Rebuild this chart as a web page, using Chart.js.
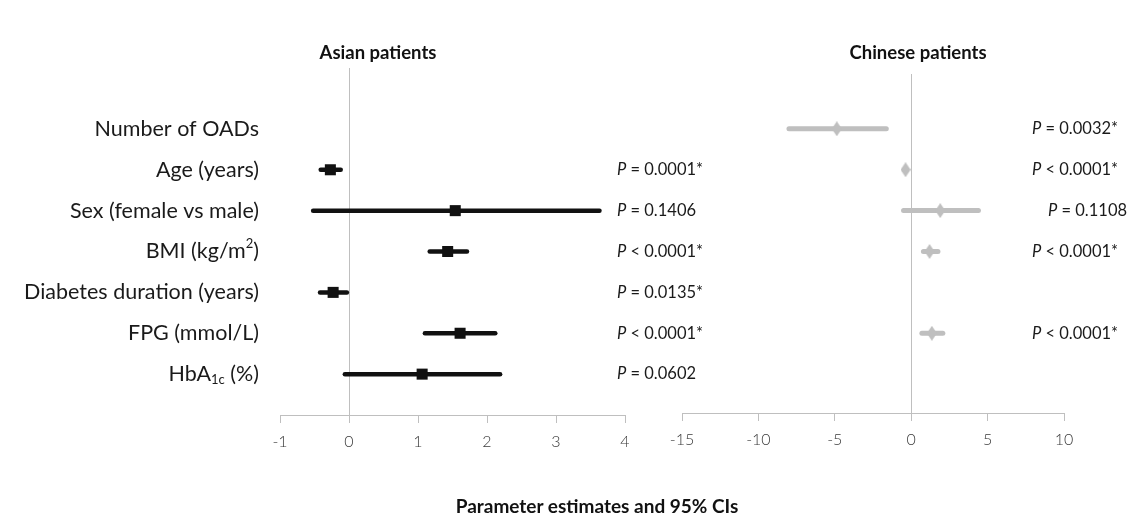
<!DOCTYPE html>
<html>
<head>
<meta charset="utf-8">
<script src="https://cdn.jsdelivr.net/npm/chart.js@4.4.1/dist/chart.umd.min.js"></script>
<style>
    html, body { margin: 0; padding: 0; background: #fff; }
    #wrap { position: relative; width: 1143px; height: 528px; overflow: hidden; font-family: Lato, sans-serif; }
    .panel { position: absolute; top: 0; }
    .title { position: absolute; font-weight: bold; font-size: 18.5px; color: #111; transform: translate(-50%, -50%); white-space: nowrap; }
</style>
</head>
<body>
<div id="wrap">
    <canvas id="asianChart" class="panel" style="left:0" width="720" height="528"></canvas>
    <canvas id="chineseChart" class="panel" style="left:640px" width="503" height="528"></canvas>
    <div class="title" style="left:378px; top:52px">Asian patients</div>
    <div class="title" style="left:918px; top:52px">Chinese patients</div>
    <div class="title" style="left:597px; top:505px; font-size:19px">Parameter estimates and 95% CIs</div>
</div>
<script>
// rows, top to bottom
var rowLabels = ['Number of OADs', 'Age (years)', 'Sex (female vs male)', 'BMI (kg/m<sup>2</sup>)',
    'Diabetes duration (years)', 'FPG (mmol/L)', 'HbA<sub>1c</sub> (%)'];

var asianEst = [null, -0.27, 1.54, 1.43, -0.23, 1.61, 1.06];
var asianLo  = [null, -0.41, -0.52, 1.17, -0.42, 1.10, -0.06];
var asianHi  = [null, -0.12, 3.63, 1.71, -0.03, 2.12, 2.19];
var asianP   = [null, 'P = 0.0001*', 'P = 0.1406', 'P < 0.0001*', 'P = 0.0135*', 'P < 0.0001*', 'P = 0.0602'];

var chineseEst = [-4.87, -0.37, 1.9, 1.2, null, 1.35, null];
var chineseLo  = [-8.0, -0.45, -0.5, 0.8, null, 0.7, null];
var chineseHi  = [-1.63, -0.3, 4.4, 1.75, null, 2.07, null];
var chineseP   = ['P = 0.0032*', 'P < 0.0001*', 'P = 0.1108', 'P < 0.0001*', null, 'P < 0.0001*', null];

var asianTicks = [-1, 0, 1, 2, 3, 4];
var chineseTicks = [-15, -10, -5, 0, 5, 10];

var AXIS_GREY = '#bfbfbf';
var TEXT = '#1a1a1a';

// tall diamond marker for the Chinese panel
function diamond(w, h, color) {
    var c = document.createElement('canvas');
    c.width = w; c.height = h;
    var g = c.getContext('2d');
    g.fillStyle = color;
    g.beginPath();
    g.moveTo(w / 2, 0); g.lineTo(w, h / 2); g.lineTo(w / 2, h); g.lineTo(0, h / 2);
    g.closePath();
    g.fill();
    return c;
}

function buildDatasets(est, lo, hi, color, width, marker) {
    var sets = [{
        data: est.map(function (v, i) { return v === null ? null : { x: v, y: i }; }).filter(Boolean),
        pointStyle: marker.style,
        pointRadius: marker.radius,
        backgroundColor: color,
        borderColor: color,
        borderWidth: 0
    }];
    est.forEach(function (v, i) {
        if (v === null) return;
        sets.push({
            data: [{ x: lo[i], y: i }, { x: hi[i], y: i }],
            showLine: true,
            pointRadius: 0,
            borderColor: color,
            borderWidth: width,
            borderCapStyle: 'round'
        });
    });
    return sets;
}

// text with <sup>/<sub> parts
function drawRich(ctx, text, x, y, size, align) {
    var parts = text.split(/(<sup>.*?<\/sup>|<sub>.*?<\/sub>)/).filter(function (p) { return p; });
    var pieces = parts.map(function (p) {
        var m = p.match(/^<(sup|sub)>(.*)<\/\1>$/);
        return m ? { t: m[2], kind: m[1] } : { t: p, kind: null };
    });
    var total = 0;
    pieces.forEach(function (p) {
        ctx.font = (p.kind ? Math.round(size * 0.62) : size) + 'px Lato, sans-serif';
        p.w = ctx.measureText(p.t).width;
        total += p.w;
    });
    var cx = align === 'right' ? x - total : x;
    ctx.textAlign = 'left';
    ctx.textBaseline = 'middle';
    pieces.forEach(function (p) {
        ctx.font = (p.kind ? Math.round(size * 0.62) : size) + 'px Lato, sans-serif';
        var dy = p.kind === 'sup' ? -size * 0.35 : (p.kind === 'sub' ? size * 0.25 : 0);
        ctx.fillText(p.t, cx, y + dy);
        cx += p.w;
    });
}

function textPlugin(pvals, pX, pShift, withLabels) {
    return {
        id: 'forestText',
        afterDraw: function (chart) {
            var ctx = chart.ctx;
            var yScale = chart.scales.y;
            ctx.save();
            ctx.fillStyle = TEXT;
            if (withLabels) {
                rowLabels.forEach(function (lab, i) {
                    drawRich(ctx, lab, 259, yScale.getPixelForValue(i), 21.5, 'right');
                });
            }
            pvals.forEach(function (p, i) {
                if (!p) return;
                var y = yScale.getPixelForValue(i);
                var x = pX + (pShift[i] || 0);
                ctx.textAlign = 'left';
                ctx.textBaseline = 'middle';
                ctx.font = 'italic 16.5px Lato, sans-serif';
                ctx.fillText(p.charAt(0), x, y);
                var w = ctx.measureText(p.charAt(0)).width;
                ctx.font = '16.5px Lato, sans-serif';
                ctx.fillText(p.slice(1), x + w, y);
            });
            ctx.restore();
        }
    };
}

function makeOptions(ticks, yMin, yMax, pad, axisHeight) {
    return {
        responsive: false,
        animation: false,
        devicePixelRatio: 1,
        layout: { padding: pad },
        plugins: { legend: { display: false }, tooltip: { enabled: false } },
        scales: {
            x: {
                type: 'linear',
                min: ticks[0],
                max: ticks[ticks.length - 1],
                afterBuildTicks: function (scale) {
                    scale.ticks = ticks.map(function (v) { return { value: v }; });
                },
                afterFit: function (scale) { scale.height = axisHeight; },
                border: { display: true, color: AXIS_GREY, width: 1 },
                grid: {
                    color: function (c) { return c.tick && c.tick.value === 0 ? AXIS_GREY : 'rgba(0,0,0,0)'; },
                    tickColor: AXIS_GREY,
                    tickLength: 8,
                    lineWidth: 1
                },
                ticks: {
                    color: '#3a3a3a',
                    padding: 9,
                    font: { family: 'Lato, sans-serif', size: 16, weight: '300' },
                    maxRotation: 0
                }
            },
            y: {
                type: 'linear',
                reverse: true,
                min: yMin,
                max: yMax,
                display: false
            }
        }
    };
}

new Chart(document.getElementById('asianChart'), {
    type: 'scatter',
    data: {
        datasets: buildDatasets(asianEst, asianLo, asianHi, '#111', 4.5, { style: 'rect', radius: 7.8 })
    },
    options: makeOptions(asianTicks, -1.49, 7.0, { top: 68, left: 280, right: 95, bottom: 0 }, 113),
    plugins: [textPlugin(asianP, 617, [], true)]
});

new Chart(document.getElementById('chineseChart'), {
    type: 'scatter',
    data: {
        datasets: buildDatasets(chineseEst, chineseLo, chineseHi, AXIS_GREY, 5, { style: diamond(10, 15, AXIS_GREY), radius: 7 })
    },
    options: makeOptions(chineseTicks, -1.34, 6.95, { top: 74, left: 42, right: 79, bottom: 0 }, 115),
    plugins: [textPlugin(chineseP, 392, [0, 0, 16, 0, 0, 0, 0], false)]
});
</script>
</body>
</html>
